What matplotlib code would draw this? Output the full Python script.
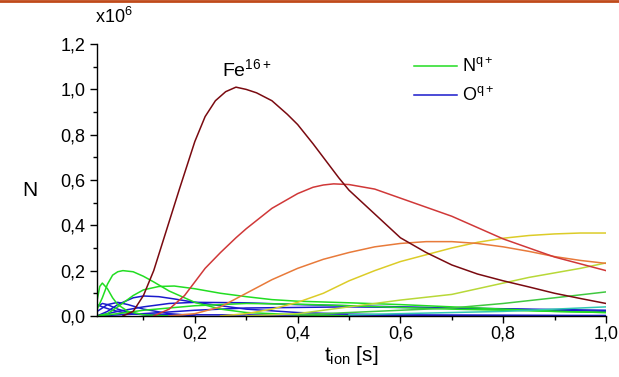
# ------------------------------------------------------------------------------
# -------------------------------------------------------------- IMPORT PACKAGES
import matplotlib
matplotlib.use('Agg')
import matplotlib.pyplot as plt
from matplotlib.ticker import FuncFormatter, MultipleLocator

plt.rcParams['font.family'] = ['Liberation Sans', 'DejaVu Sans']
plt.rcParams['mathtext.fontset'] = 'custom'
plt.rcParams['mathtext.rm'] = 'Liberation Sans'
plt.rcParams['mathtext.it'] = 'Liberation Sans:italic'

# ------------------------------------------------------------------------------
# ------------------------------------------------------------------------- DATA
# Fe charge states (x10^6)
fe16_x = [0.06, 0.08, 0.10, 0.12, 0.145, 0.17, 0.20, 0.22, 0.24, 0.26, 0.28, 0.30,
          0.32, 0.35, 0.38, 0.40, 0.43, 0.46, 0.48, 0.50, 0.55, 0.60, 0.65, 0.70,
          0.75, 0.80, 0.85, 0.90, 0.95, 1.00]
fe16_y = [0.00, 0.02, 0.09, 0.20, 0.38, 0.56, 0.77, 0.88, 0.95, 0.99, 1.01, 1.00,
          0.985, 0.95, 0.89, 0.845, 0.76, 0.67, 0.61, 0.555, 0.45, 0.345, 0.28, 0.225,
          0.185, 0.155, 0.128, 0.10, 0.077, 0.055]

fe15_x = [0.12, 0.15, 0.18, 0.20, 0.22, 0.25, 0.28, 0.30, 0.35, 0.40, 0.43, 0.45,
          0.47, 0.50, 0.55, 0.60, 0.65, 0.70, 0.75, 0.80, 0.85, 0.90, 0.95, 1.00]
fe15_y = [0.00, 0.03, 0.09, 0.15, 0.21, 0.28, 0.345, 0.385, 0.475, 0.54, 0.568, 0.578,
          0.583, 0.58, 0.56, 0.52, 0.48, 0.44, 0.39, 0.34, 0.30, 0.26, 0.23, 0.20]

fe14_x = [0.15, 0.20, 0.25, 0.30, 0.35, 0.40, 0.45, 0.50, 0.55, 0.60, 0.65, 0.70,
          0.75, 0.80, 0.85, 0.90, 0.95, 1.00]
fe14_y = [0.00, 0.01, 0.04, 0.10, 0.16, 0.21, 0.25, 0.28, 0.305, 0.32, 0.328, 0.328,
          0.32, 0.305, 0.285, 0.262, 0.245, 0.232]

fe13_x = [0.25, 0.30, 0.35, 0.40, 0.45, 0.50, 0.55, 0.60, 0.65, 0.70, 0.75, 0.80,
          0.85, 0.90, 0.95, 1.00]
fe13_y = [0.00, 0.01, 0.03, 0.06, 0.10, 0.155, 0.20, 0.24, 0.27, 0.30, 0.325, 0.343,
          0.355, 0.362, 0.366, 0.366]

fe12_x = [0.30, 0.40, 0.50, 0.60, 0.70, 0.75, 0.80, 0.85, 0.90, 0.95, 1.00]
fe12_y = [0.00, 0.01, 0.04, 0.07, 0.095, 0.12, 0.145, 0.17, 0.19, 0.21, 0.234]

fe11_x = [0.40, 0.50, 0.60, 0.70, 0.80, 0.90, 1.00]
fe11_y = [0.005, 0.015, 0.025, 0.035, 0.055, 0.08, 0.106]

fe10_x = [0.50, 0.60, 0.70, 0.80, 0.90, 1.00]
fe10_y = [0.005, 0.01, 0.015, 0.02, 0.03, 0.04]

# N charge states
n_a_x = [0.01, 0.015, 0.02, 0.03, 0.04, 0.05, 0.07, 0.10, 0.15]
n_a_y = [0.07, 0.13, 0.145, 0.12, 0.08, 0.05, 0.02, 0.005, 0.00]

n_b_x = [0.01, 0.02, 0.03, 0.04, 0.05, 0.06, 0.08, 0.10, 0.12, 0.15, 0.20, 0.25,
         0.30, 0.40, 0.50]
n_b_y = [0.03, 0.08, 0.14, 0.18, 0.195, 0.20, 0.195, 0.175, 0.15, 0.11, 0.06, 0.03,
         0.015, 0.005, 0.00]

n_c_x = [0.01, 0.03, 0.05, 0.08, 0.10, 0.13, 0.16, 0.20, 0.25, 0.30, 0.35, 0.40,
         0.50, 0.60, 0.70, 0.80, 0.90, 1.00]
n_c_y = [0.00, 0.01, 0.04, 0.09, 0.115, 0.13, 0.132, 0.12, 0.10, 0.085, 0.072, 0.065,
         0.058, 0.05, 0.04, 0.03, 0.02, 0.015]

n_d_x = [0.01, 0.05, 0.10, 0.20, 0.30, 0.40, 0.50, 0.70, 1.00]
n_d_y = [0.00, 0.01, 0.025, 0.045, 0.055, 0.052, 0.045, 0.03, 0.015]

# O charge states
o_a_x = [0.01, 0.02, 0.03, 0.05, 0.08, 0.12]
o_a_y = [0.04, 0.055, 0.05, 0.03, 0.01, 0.00]

o_b_x = [0.01, 0.03, 0.05, 0.07, 0.10, 0.15, 0.20]
o_b_y = [0.02, 0.05, 0.06, 0.05, 0.03, 0.01, 0.00]

o_c_x = [0.01, 0.03, 0.05, 0.08, 0.10, 0.13, 0.16, 0.20, 0.25, 0.30, 0.40, 0.50,
         0.60, 1.00]
o_c_y = [0.00, 0.02, 0.05, 0.08, 0.088, 0.085, 0.075, 0.06, 0.045, 0.03, 0.015, 0.008,
         0.004, 0.00]

o_d_x = [0.01, 0.05, 0.10, 0.15, 0.20, 0.30, 0.40, 0.50, 0.60, 0.70, 0.80, 1.00]
o_d_y = [0.00, 0.02, 0.04, 0.055, 0.06, 0.058, 0.05, 0.045, 0.04, 0.035, 0.03, 0.02]

o_e_x = [0.01, 0.10, 0.20, 0.30, 0.50, 0.70, 1.00]
o_e_y = [0.00, 0.01, 0.025, 0.035, 0.04, 0.035, 0.025]

o_f_x = [0.01, 0.02, 0.04, 0.06, 0.10, 0.20, 0.40, 0.70, 1.00]
o_f_y = [0.05, 0.04, 0.025, 0.015, 0.008, 0.005, 0.004, 0.003, 0.002]

xticks = [0.2, 0.4, 0.6, 0.8, 1.0]
yticks = [0.0, 0.2, 0.4, 0.6, 0.8, 1.0, 1.2]

# ------------------------------------------------------------------------------
# ------------------------------------------------------------------------- PLOT
fig = plt.figure(figsize=(6.19, 3.77), dpi=100)
ax = fig.add_axes([0.157, 0.162, 0.822, 0.721])

green = '#22dd22'
blue = '#1a1acc'

for xs, ys in [(o_a_x, o_a_y), (o_b_x, o_b_y), (o_c_x, o_c_y),
               (o_d_x, o_d_y), (o_e_x, o_e_y), (o_f_x, o_f_y)]:
	ax.plot(xs, ys, color=blue, lw=1.1)

for xs, ys in [(n_a_x, n_a_y), (n_b_x, n_b_y), (n_c_x, n_c_y), (n_d_x, n_d_y)]:
	ax.plot(xs, ys, color=green, lw=1.1)

ax.plot(fe10_x, fe10_y, color='#30c8b0', lw=1.1)
ax.plot(fe11_x, fe11_y, color='#40c840', lw=1.1)
ax.plot(fe12_x, fe12_y, color='#b8d838', lw=1.1)
ax.plot(fe13_x, fe13_y, color='#dccc28', lw=1.1)
ax.plot(fe14_x, fe14_y, color='#e87a3a', lw=1.1)
ax.plot(fe15_x, fe15_y, color='#d03838', lw=1.1)
ax.plot(fe16_x, fe16_y, color='#7a0a10', lw=1.1)

# legend
ln_n, = ax.plot([], [], color=green, lw=1.1)
ln_o, = ax.plot([], [], color=blue, lw=1.1)
ax.legend([ln_n, ln_o], ['N$^{\\mathrm{q+}}$', 'O$^{\\mathrm{q+}}$'],
          loc='upper left', bbox_to_anchor=(0.59, 1.01),
          frameon=False, fontsize=13, handlelength=2.4, handletextpad=0.3,
          labelspacing=0.55)

ax.text(0.253, 1.09, 'Fe$^{\\mathrm{16+}}$', fontsize=14, ha='left', va='center')

ax.set_xlim(0.01, 1.0)
ax.set_ylim(0.0, 1.2)
ax.set_xticks(xticks)
ax.set_yticks(yticks)
ax.xaxis.set_minor_locator(MultipleLocator(0.1))
ax.yaxis.set_minor_locator(MultipleLocator(0.1))
fmt = FuncFormatter(lambda v, p: ('%.1f' % v).replace('.', ','))
ax.xaxis.set_major_formatter(fmt)
ax.yaxis.set_major_formatter(fmt)
ax.tick_params(which='major', length=5, width=1, labelsize=13, direction='out')
ax.tick_params(axis='x', which='major', pad=2)
ax.tick_params(which='minor', length=3, width=1, direction='out')

for s in ['top', 'right']:
	ax.spines[s].set_visible(False)
for s in ['left', 'bottom']:
	ax.spines[s].set_linewidth(1.0)

ax.set_xlabel('t$_{\\mathrm{ion}}$ [s]', fontsize=15, labelpad=1)
fig.text(0.048, 0.495, 'N', fontsize=15, ha='center', va='center')
fig.text(0.153, 0.955, 'x10$^{\\mathrm{6}}$', fontsize=13, ha='left', va='center')

# top border line
fig.add_artist(plt.Line2D([0, 1], [0.997, 0.997], color='#c04a1a', lw=2.0,
                          transform=fig.transFigure))

fig.savefig('out.png', dpi=100)
